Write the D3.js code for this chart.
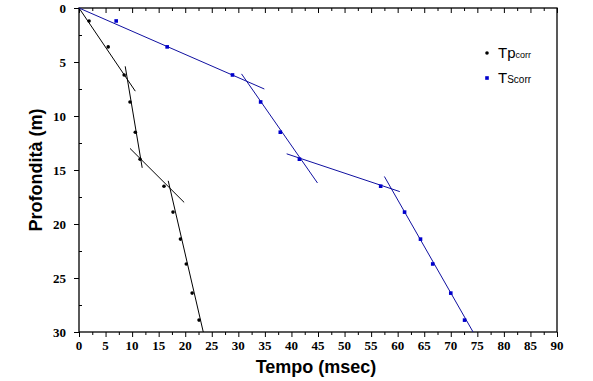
<!DOCTYPE html>
<html>
  <head>
    <meta charset="utf-8">
    <script src="https://cdn.jsdelivr.net/npm/d3@7/dist/d3.min.js"></script>
    <style>
      body { margin: 0; background: #fff; }
    </style>
  </head>
  <body>
    <svg width="593" height="381" id="mainsvg"></svg>
    <script>
        // depth of each geophone (m)
        const depth = [1.2, 3.6, 6.2, 8.7, 11.5, 14.0, 16.5, 18.9, 21.4, 23.7, 26.4, 28.9];
        // corrected travel times (msec)
        const tpCorr = [1.9, 5.5, 8.5, 9.6, 10.6, 11.5, 16.0, 17.7, 19.1, 20.2, 21.3, 22.6];
        const tsCorr = [7.0, 16.6, 28.9, 34.2, 37.9, 41.5, 56.8, 61.3, 64.3, 66.6, 70.0, 72.6];
        // fitted segments [t1, z1, t2, z2]
        const pSegments = [[0, 0, 10.6, 7.7], [8.7, 5.4, 11.9, 14.8], [9.6, 13.0, 19.8, 18.0], [16.8, 16.0, 23.4, 30]];
        const sSegments = [[0, 0, 34.9, 7.5], [30.6, 6.1, 44.9, 16.2], [39.1, 13.5, 60.4, 17.0], [57.5, 15.6, 74.2, 30]];
        const xTicks = d3.range(0, 91, 5);
        const yTicks = d3.range(0, 31, 5);

        const svg = d3.select('#mainsvg');
        const width = +svg.attr('width');
        const height = +svg.attr('height');
        const margin = {top: 8, right: 36, bottom: 49, left: 79};
        const innerWidth = width - margin.left - margin.right;
        const innerHeight = height - margin.top - margin.bottom;

        const g = svg.append('g')
            .attr('transform', `translate(${margin.left}, ${margin.top})`);

        const x = d3.scaleLinear().domain([0, 90]).range([0, innerWidth]);
        const y = d3.scaleLinear().domain([0, 30]).range([0, innerHeight]);

        // frame
        g.append('rect')
            .attr('width', innerWidth).attr('height', innerHeight)
            .attr('fill', 'none').attr('stroke', 'black').attr('stroke-width', 1.3);

        // tick marks: bottom/left outward, top inward
        g.append('g').attr('transform', `translate(0, ${innerHeight})`)
            .call(d3.axisBottom(x).tickValues(xTicks).tickSize(5).tickFormat(''));
        g.append('g').attr('transform', `translate(0, ${innerHeight})`)
            .call(d3.axisBottom(x).tickValues(d3.range(2.5, 90, 5)).tickSize(3).tickFormat(''));
        g.append('g')
            .call(d3.axisLeft(y).tickValues(yTicks).tickSize(5).tickFormat(''));
        g.append('g')
            .call(d3.axisLeft(y).tickValues(d3.range(2.5, 30, 5)).tickSize(-3).tickFormat(''));
        g.append('g')
            .call(d3.axisTop(x).tickValues(xTicks).tickSize(-5).tickFormat(''));
        g.append('g')
            .call(d3.axisTop(x).tickValues(d3.range(2.5, 90, 5)).tickSize(-3).tickFormat(''));
        g.selectAll('.domain').remove();
        g.selectAll('.tick line').attr('stroke', 'black');

        // tick labels
        const labels = g.append('g')
            .attr('font-family', 'Liberation Serif')
            .attr('font-weight', 'bold')
            .attr('font-size', 13)
            .attr('fill', 'black');
        labels.selectAll('.xl').data(xTicks).enter().append('text')
            .attr('class', 'xl')
            .attr('x', d => x(d)).attr('y', innerHeight + 18)
            .attr('text-anchor', 'middle')
            .text(d => d);
        labels.selectAll('.yl').data(yTicks).enter().append('text')
            .attr('class', 'yl')
            .attr('x', -13).attr('y', d => y(d) + 4.5)
            .attr('text-anchor', 'end')
            .text(d => d);

        // fitted lines
        const drawSegs = function(segs, color) {
            g.selectAll(null).data(segs).enter().append('line')
                .attr('x1', d => x(d[0])).attr('y1', d => y(d[1]))
                .attr('x2', d => x(d[2])).attr('y2', d => y(d[3]))
                .attr('stroke', color).attr('stroke-width', 1);
        };
        drawSegs(pSegments, 'black');
        drawSegs(sSegments, '#1010a0');

        // points
        g.selectAll('.pp').data(depth).enter().append('circle')
            .attr('class', 'pp')
            .attr('cx', (d, i) => x(tpCorr[i])).attr('cy', d => y(d))
            .attr('r', 1.8).attr('fill', 'black');
        g.selectAll('.sp').data(depth).enter().append('rect')
            .attr('class', 'sp')
            .attr('x', (d, i) => x(tsCorr[i]) - 1.8).attr('y', d => y(d) - 1.8)
            .attr('width', 3.6).attr('height', 3.6).attr('fill', '#0000cc');

        // legend
        const legend = svg.append('g').attr('transform', 'translate(487, 53)');
        legend.append('circle').attr('cx', 0).attr('cy', 0).attr('r', 1.8).attr('fill', 'black');
        const t1 = legend.append('text').attr('x', 11).attr('y', 5)
            .style('font-family', 'Liberation Sans, Arial, sans-serif').style('font-size', '15px');
        t1.append('tspan').text('Tp');
        t1.append('tspan').style('font-size', '9px').text('corr');
        legend.append('rect').attr('x', -1.8).attr('y', 25 - 1.8).attr('width', 3.6).attr('height', 3.6).attr('fill', '#0000cc');
        const t2 = legend.append('text').attr('x', 11).attr('y', 30)
            .style('font-family', 'Liberation Sans, Arial, sans-serif').style('font-size', '15px');
        t2.append('tspan').text('T');
        t2.append('tspan').style('font-size', '10px').text('Scorr');

        // axis titles
        svg.append('text')
            .attr('x', margin.left + innerWidth / 2 - 2).attr('y', 373)
            .attr('text-anchor', 'middle')
            .style('font-family', 'Liberation Sans, Arial, sans-serif')
            .style('font-weight', 'bold').style('font-size', '18px')
            .text('Tempo (msec)');
        svg.append('text')
            .attr('transform', `translate(42, ${margin.top + innerHeight / 2}) rotate(-90)`)
            .attr('text-anchor', 'middle')
            .style('font-family', 'Liberation Sans, Arial, sans-serif')
            .style('font-weight', 'bold').style('font-size', '18px')
            .text('Profondità (m)');
    </script>
  </body>
</html>
